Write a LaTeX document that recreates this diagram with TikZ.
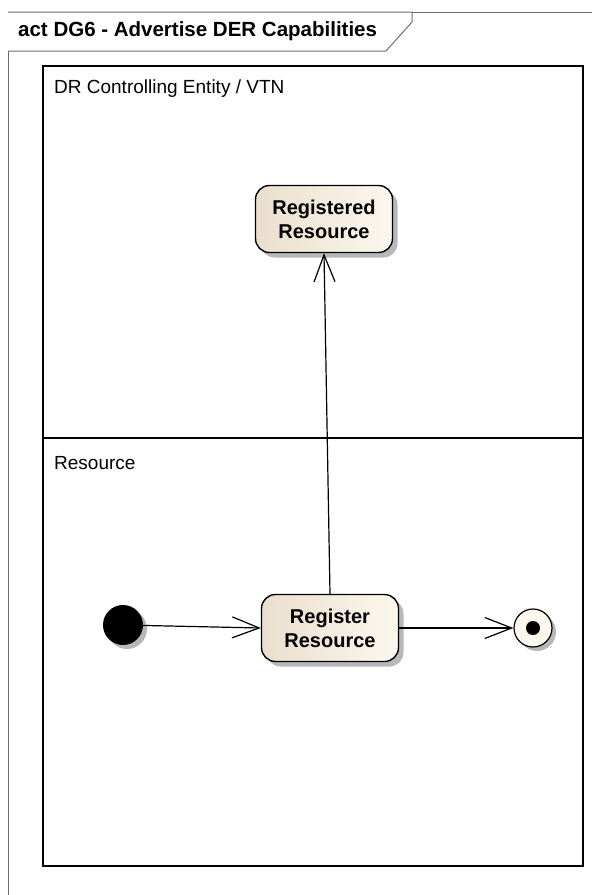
\documentclass[tikz,border=0pt]{standalone}
\usepackage{fontspec}
\setmainfont{Liberation Sans}
\usetikzlibrary{arrows.meta,shadows}
\definecolor{actfill}{RGB}{252,247,238}
\definecolor{actleft}{RGB}{234,223,206}
\definecolor{framegray}{RGB}{110,110,110}

\begin{document}
\begin{tikzpicture}[x=1pt,y=-1pt,
  action/.style={draw,line width=1.4pt,rounded corners=14pt,minimum width=137pt,minimum height=67pt,
    align=center,left color=actleft,right color=actfill,font=\bfseries\fontsize{20}{24}\selectfont,
    drop shadow={shadow xshift=5pt,shadow yshift=-5pt,fill=black!28,opacity=1}},
  flow/.style={draw,line width=1.2pt,-{Straight Barb[length=27pt,width=21pt,line width=1.2pt]}},
  lanelabel/.style={anchor=west,inner sep=0pt,font=\fontsize{19}{22}\selectfont}]
\useasboundingbox (0,0) rectangle (592,895);

% frame and title
\path[draw,framegray,line width=1pt] (592,12) -- (8,12) -- (8,895);
\path[draw,framegray,line width=1pt,fill=white] (8,12) -- (412,12) -- (412,22) -- (386,51) -- (8,51);
\node[anchor=west,inner sep=0pt,font=\bfseries\fontsize{20.5}{23}\selectfont] (title) at (18,31) {act DG6 - Advertise DER Capabilities};

% lanes
\path[draw,line width=1.6pt] (43,66) rectangle (583,866);
\path[draw,line width=1.6pt] (43,438) -- (583,438);
\node[lanelabel] (vtnlane) at (54,89) {DR Controlling Entity / VTN};
\node[lanelabel] (reslane) at (54,463) {Resource};

% nodes
\node[action] (registered) at (324,219) {Registered\\Resource};
\node[action] (register) at (330,628) {Register\\Resource};
\node[circle,fill=black,minimum size=40pt,inner sep=0pt,
  drop shadow={shadow xshift=4pt,shadow yshift=-4pt,fill=black!28,opacity=1}] (initial) at (123,625) {};
\node[circle,draw,line width=1.2pt,fill=actfill,minimum size=38pt,inner sep=0pt,
  drop shadow={shadow xshift=4pt,shadow yshift=-4pt,fill=black!28,opacity=1}] (final) at (533,628) {};
\node[circle,fill=black,minimum size=14pt,inner sep=0pt] (finaldot) at (final) {};

% flows
\path[flow] (initial) -- (register.west);
\path[flow] (register) -- (final);
\path[flow] (register.north) -- (registered.south);

\end{tikzpicture}
\end{document}
